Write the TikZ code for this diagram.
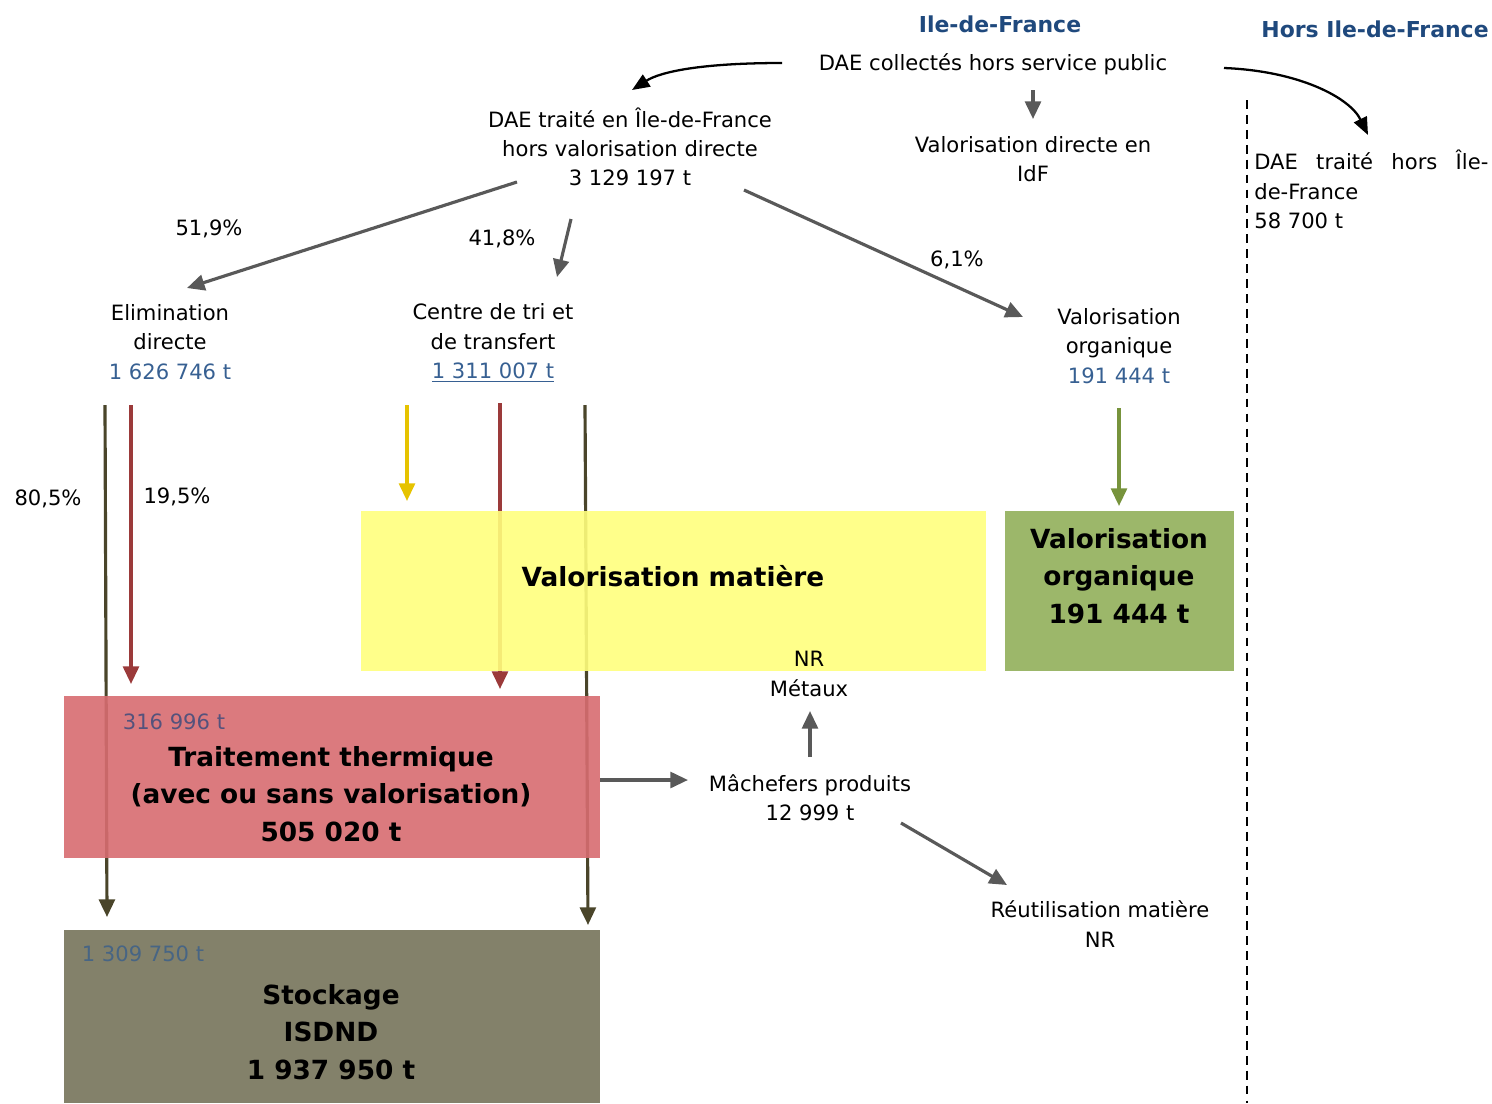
\documentclass[tikz,border=0pt]{standalone}
\usepackage{fontspec}
\setmainfont{DejaVu Sans}
\usetikzlibrary{arrows.meta}
\definecolor{hdrblue}{RGB}{31,73,125}
\definecolor{valblue}{RGB}{55,96,146}
\definecolor{olivedk}{RGB}{74,69,42}
\definecolor{redln}{RGB}{155,58,58}
\definecolor{yelln}{RGB}{230,195,0}
\definecolor{grnln}{RGB}{119,147,60}
\definecolor{grayln}{RGB}{89,89,89}
\definecolor{yelfill}{RGB}{255,255,125}
\definecolor{grnfill}{RGB}{145,175,90}
\definecolor{redfill}{RGB}{215,108,112}
\definecolor{stofill}{RGB}{118,115,90}
\tikzset{
  txt/.style={align=center,inner sep=0pt,font=\fontsize{12}{16.7}\selectfont},
  hdr/.style={inner sep=0pt,text=hdrblue,font=\fontsize{12.5}{15}\selectfont\bfseries},
  big/.style={align=center,inner sep=0pt,font=\fontsize{15}{21.5}\selectfont\bfseries},
  pct/.style={inner sep=0pt,font=\fontsize{12}{15}\selectfont},
  flow/.style={line width=1.8pt,-{Triangle[length=10pt,width=9pt]}},
  gflow/.style={flow,draw=grayln},
  cflow/.style={line width=1.3pt,-{Triangle[length=10pt,width=8pt]}},
  boxr/.style={inner sep=0pt,draw=none,fill opacity=0.9,text opacity=1},
}
\begin{document}
\begin{tikzpicture}[x=0.02cm,y=-0.02cm]
\useasboundingbox (0,0) rectangle (1492,1103);
% coordinates for free ends
\coordinate (a1s) at (782,63);   \coordinate (a1e) at (632,90);
\coordinate (a2s) at (1033,90);  \coordinate (a2e) at (1033,119);
\coordinate (a3s) at (1224,68);  \coordinate (a3e) at (1368,135);
\coordinate (b1s) at (517,182);  \coordinate (b1e) at (187,288);
\coordinate (b2s) at (571,219);  \coordinate (b2e) at (557,277);
\coordinate (b3s) at (744,190);  \coordinate (b3e) at (1023,317);
\coordinate (v1s) at (105,405);  \coordinate (v1e) at (107,917);
\coordinate (v2s) at (131,405);  \coordinate (v2e) at (131,684);
\coordinate (v3s) at (407,405);  \coordinate (v3e) at (407,501);
\coordinate (v4s) at (500,403);  \coordinate (v4e) at (500,689);
\coordinate (v5s) at (585,405);  \coordinate (v5e) at (588,925);
\coordinate (v6s) at (1119,408); \coordinate (v6e) at (1119,506);
\coordinate (m1s) at (600,780);  \coordinate (m1e) at (688,780);
\coordinate (m2s) at (810,757);  \coordinate (m2e) at (810,711);
\coordinate (m3s) at (901,823);  \coordinate (m3e) at (1007,885);
\coordinate (dtop) at (1247,100); \coordinate (dbot) at (1247,1103);

% vertical flows (under the boxes)
\draw[flow,draw=olivedk,color=olivedk] (v1s) -- (v1e);
\draw[flow,draw=redln,color=redln] (v2s) -- (v2e);
\draw[flow,draw=yelln,color=yelln] (v3s) -- (v3e);
\draw[flow,draw=redln,color=redln] (v4s) -- (v4e);
\draw[flow,draw=olivedk,color=olivedk] (v5s) -- (v5e);
\draw[flow,draw=grnln,color=grnln] (v6s) -- (v6e);

% boxes
\node[boxr,fill=yelfill,minimum width=625*0.02cm,minimum height=160*0.02cm] (vm) at (673.5,591) {};
\node[big] (vmt) at (673,576) {Valorisation matière};
\node[boxr,fill=grnfill,minimum width=229*0.02cm,minimum height=160*0.02cm] (vo) at (1119.5,591) {};
\node[big] (vot) at (1119,576) {Valorisation\\organique\\191 444 t};
\node[boxr,fill=redfill,minimum width=536*0.02cm,minimum height=162*0.02cm] (tt) at (332,777) {};
\node[big] (ttt) at (331,794) {Traitement thermique\\(avec ou sans valorisation)\\505 020 t};
\node[txt,text=valblue!85!red] (tt1) at (174,722) {316 996 t};
\node[boxr,fill=stofill,minimum width=536*0.02cm,minimum height=173*0.02cm] (st) at (332,1016.5) {};
\node[big] (stt) at (331,1032) {Stockage\\ISDND\\1 937 950 t};
\node[txt,text=valblue!75!stofill] (st1) at (143,954) {1 309 750 t};

% headers
\node[hdr] (h1) at (1000,24) {Ile-de-France};
\node[hdr] (h2) at (1375,29) {Hors Ile-de-France};

% texts
\node[txt] (dae) at (993,64) {DAE collectés hors service public};
\node[txt] (vdi) at (1033,159) {Valorisation directe en\\IdF};
\node[txt,align=left,anchor=north west] (hors) at (1254,150) {\makebox[234\dimexpr0.02cm\relax][s]{DAE traité hors Île-}\\de-France\\58 700 t};
\node[txt] (idf) at (630,147) {DAE traité en Île-de-France\\hors valorisation directe\\3 129 197 t};
\node[txt] (eli) at (170,342) {Elimination\\directe\\\textcolor{valblue}{1 626 746 t}};
\node[txt] (ctr) at (493,343) {Centre de tri et\\de transfert\\\textcolor{valblue}{\underline{1 311 007 t}}};
\node[txt] (vor) at (1119,346) {Valorisation\\organique\\\textcolor{valblue}{191 444 t}};
\node[txt] (mac) at (810,798) {Mâchefers produits\\12 999 t};
\node[txt] (nrm) at (809,674) {NR\\Métaux};
\node[txt] (reu) at (1100,924) {Réutilisation matière\\NR};

% percentages
\node[pct] (p1) at (209,229) {51,9\%};
\node[pct] (p2) at (502,239) {41,8\%};
\node[pct] (p3) at (957,260) {6,1\%};
\node[pct] (p4) at (48,499) {80,5\%};
\node[pct] (p5) at (177,497) {19,5\%};

% connectors
\draw[cflow] (a1s) .. controls (700,63) and (660,72) .. (a1e);
\draw[cflow] (a3s) .. controls (1300,71) and (1350,98) .. (a3e);
\draw[gflow,color=grayln] (a2s) -- (a2e);
\draw[gflow,color=grayln] (b1s) -- (b1e);
\draw[gflow,color=grayln] (b2s) -- (b2e);
\draw[gflow,color=grayln] (b3s) -- (b3e);
\draw[gflow,color=grayln] (m1s) -- (m1e);
\draw[gflow,color=grayln] (m2s) -- (m2e);
\draw[gflow,color=grayln] (m3s) -- (m3e);
\draw[line width=1.2pt,dash pattern=on 5pt off 3.5pt] (dtop) -- (dbot);
\end{tikzpicture}
\end{document}
